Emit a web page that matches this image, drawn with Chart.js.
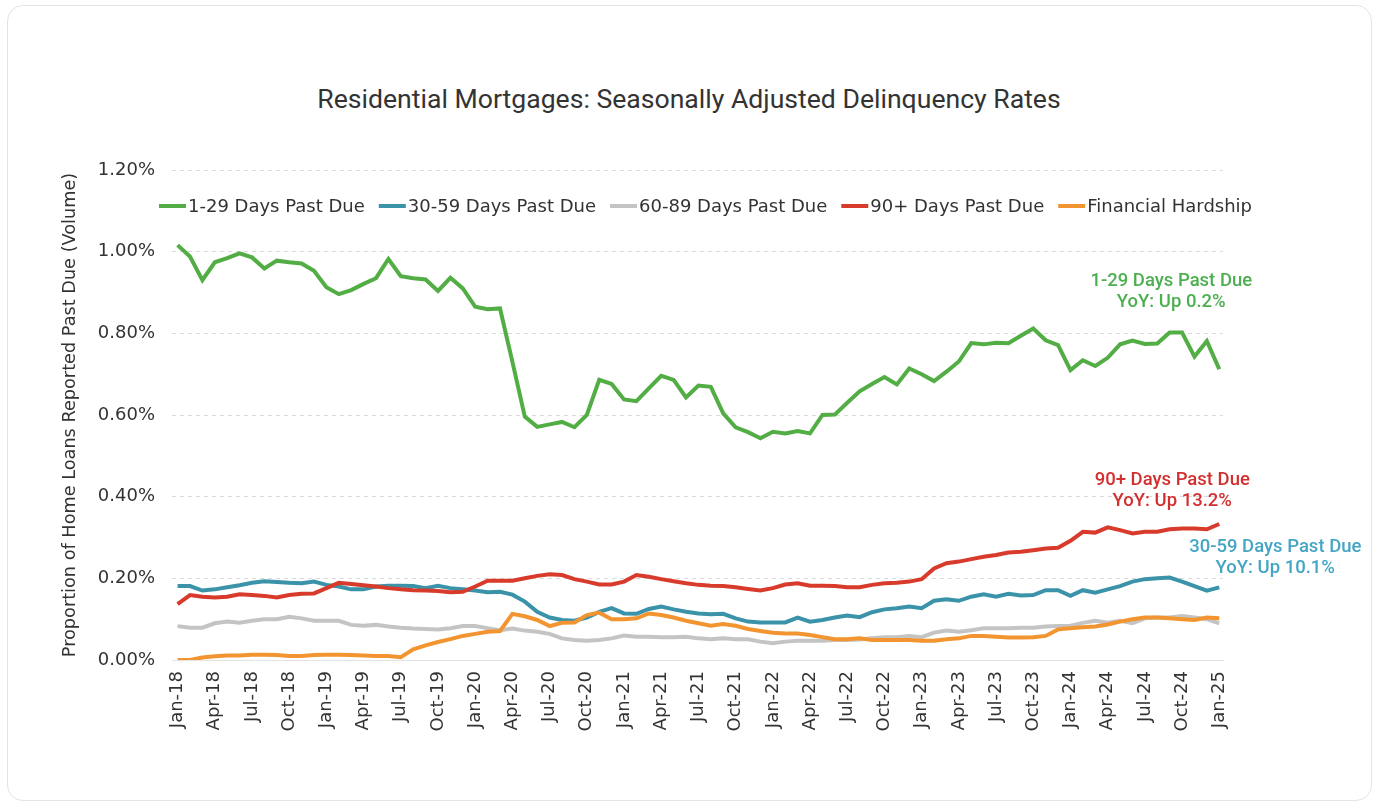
<!DOCTYPE html>
<html>
<head>
<meta charset="utf-8">
<title>Residential Mortgages: Seasonally Adjusted Delinquency Rates</title>
<script src="https://cdn.jsdelivr.net/npm/chart.js@4.4.1/dist/chart.umd.min.js"></script>
<style>
  html, body { margin: 0; padding: 0; background: #fff; }
  #card {
    position: absolute; left: 7px; top: 5px; width: 1363px; height: 794px;
    border: 1.5px solid #e4e4e4; border-radius: 16px; background: #fff;
  }
  #title {
    position: absolute; left: 0; top: 83px; width: 1378px; text-align: center;
    font-family: Roboto, sans-serif; font-size: 26.6px; line-height: 32px; color: #333;
  }
  #wrap { position: absolute; left: 0; top: 0; width: 1378px; height: 803px; }
</style>
</head>
<body>
<div id="card"></div>
<div id="title">Residential Mortgages: Seasonally Adjusted Delinquency Rates</div>
<div id="wrap"><canvas id="chart"></canvas></div>
<script>
// monthly, Jan-18 .. Jan-25 (85 months), values in percent
var tickLabels = ['Jan-18','Apr-18','Jul-18','Oct-18','Jan-19','Apr-19','Jul-19','Oct-19',
  'Jan-20','Apr-20','Jul-20','Oct-20','Jan-21','Apr-21','Jul-21','Oct-21',
  'Jan-22','Apr-22','Jul-22','Oct-22','Jan-23','Apr-23','Jul-23','Oct-23',
  'Jan-24','Apr-24','Jul-24','Oct-24','Jan-25'];

var days1to29 = [1.016,0.988,0.930,0.974,0.984,0.996,0.986,0.959,0.978,0.974,0.971,0.953,
  0.913,0.896,0.906,0.921,0.935,0.982,0.940,0.935,0.932,0.904,0.936,0.910,
  0.865,0.859,0.861,0.730,0.596,0.571,0.577,0.583,0.570,0.600,0.686,0.676,
  0.638,0.634,0.665,0.696,0.686,0.643,0.672,0.669,0.604,0.570,0.558,0.543,
  0.559,0.555,0.561,0.555,0.600,0.601,0.630,0.658,0.676,0.693,0.675,0.714,
  0.700,0.683,0.706,0.731,0.776,0.773,0.777,0.776,0.794,0.812,0.783,0.771,
  0.710,0.734,0.720,0.740,0.773,0.782,0.774,0.775,0.802,0.802,0.743,0.781,
  0.712];

var days30to59 = [0.181,0.181,0.170,0.173,0.178,0.183,0.189,0.193,0.191,0.189,0.188,0.192,
  0.184,0.180,0.173,0.173,0.180,0.182,0.182,0.181,0.176,0.182,0.176,0.173,
  0.170,0.166,0.167,0.160,0.143,0.118,0.104,0.098,0.096,0.104,0.118,0.127,
  0.114,0.113,0.125,0.131,0.124,0.118,0.114,0.112,0.113,0.102,0.094,0.092,
  0.092,0.092,0.104,0.094,0.098,0.104,0.109,0.105,0.117,0.124,0.127,0.131,
  0.127,0.145,0.149,0.145,0.155,0.161,0.155,0.162,0.158,0.159,0.171,0.171,
  0.157,0.171,0.165,0.173,0.181,0.192,0.198,0.200,0.202,0.192,0.181,0.170,
  0.178];

var days60to89 = [0.083,0.079,0.079,0.090,0.094,0.091,0.096,0.100,0.100,0.106,0.102,0.096,
  0.096,0.096,0.086,0.084,0.086,0.082,0.079,0.077,0.076,0.075,0.078,0.083,
  0.083,0.078,0.073,0.077,0.072,0.069,0.064,0.053,0.049,0.047,0.049,0.053,
  0.060,0.057,0.057,0.056,0.056,0.057,0.053,0.051,0.053,0.051,0.051,0.045,
  0.041,0.045,0.047,0.047,0.047,0.049,0.049,0.050,0.053,0.056,0.056,0.059,
  0.056,0.067,0.072,0.069,0.073,0.078,0.078,0.078,0.079,0.079,0.082,0.083,
  0.084,0.091,0.096,0.091,0.096,0.090,0.102,0.104,0.104,0.108,0.104,0.100,
  0.090];

var days90plus = [0.137,0.159,0.155,0.153,0.155,0.161,0.159,0.157,0.153,0.159,0.162,0.163,
  0.176,0.189,0.186,0.183,0.180,0.176,0.173,0.171,0.170,0.169,0.166,0.167,
  0.180,0.194,0.194,0.194,0.200,0.206,0.210,0.208,0.198,0.192,0.185,0.185,
  0.192,0.208,0.204,0.198,0.193,0.188,0.184,0.182,0.181,0.178,0.174,0.170,
  0.176,0.185,0.188,0.182,0.182,0.181,0.178,0.178,0.184,0.188,0.189,0.192,
  0.198,0.224,0.237,0.241,0.247,0.253,0.257,0.263,0.265,0.269,0.273,0.275,
  0.292,0.314,0.312,0.325,0.318,0.310,0.314,0.314,0.320,0.322,0.322,0.320,
  0.333];

var hardship = [0.000,0.000,0.006,0.009,0.011,0.011,0.013,0.013,0.012,0.010,0.010,0.012,
  0.013,0.013,0.012,0.011,0.010,0.010,0.007,0.026,0.036,0.044,0.051,0.059,
  0.064,0.069,0.071,0.113,0.107,0.098,0.083,0.091,0.092,0.110,0.116,0.100,
  0.100,0.102,0.114,0.110,0.104,0.096,0.090,0.084,0.088,0.084,0.076,0.071,
  0.067,0.065,0.065,0.061,0.056,0.051,0.051,0.053,0.049,0.049,0.049,0.049,
  0.047,0.047,0.051,0.053,0.059,0.059,0.057,0.055,0.055,0.056,0.059,0.075,
  0.078,0.080,0.082,0.087,0.094,0.100,0.104,0.104,0.102,0.100,0.098,0.104,
  0.102];

var seriesNames = ['1-29 Days Past Due','30-59 Days Past Due','60-89 Days Past Due','90+ Days Past Due','Financial Hardship'];
var seriesColors = ['#52ad44','#3a93a8','#c4c4c4','#d83b2b','#f29531'];

var fontFamily = '"DejaVu Sans", Verdana, sans-serif';
var axisFont = { family: fontFamily, size: 18 };

function pts(arr) {
  return arr.map(function(v, i) { return { x: i, y: v }; });
}

var allSeries = [days1to29, days30to59, days60to89, days90plus, hardship];
var datasets = allSeries.map(function(arr, k) {
  return {
    label: seriesNames[k],
    data: pts(arr),
    borderColor: seriesColors[k],
    backgroundColor: seriesColors[k],
    borderWidth: 4,
    pointRadius: 0,
    tension: 0,
    order: k === 0 ? 0 : 5 - k
  };
});

// legend drawn inside the plot, under the top gridline
var insideLegend = {
  id: 'insideLegend',
  afterDraw: function(chart) {
    var ctx = chart.ctx;
    var x = chart.chartArea.left - 13, y = 206;
    ctx.save();
    ctx.font = '18px ' + fontFamily;
    ctx.textBaseline = 'middle';
    ctx.textAlign = 'left';
    seriesNames.forEach(function(name, k) {
      ctx.strokeStyle = seriesColors[k];
      ctx.lineWidth = 4;
      ctx.beginPath();
      ctx.moveTo(x, y);
      ctx.lineTo(x + 27, y);
      ctx.stroke();
      ctx.fillStyle = '#333';
      ctx.fillText(name, x + 29, y + 1);
      x += 29 + ctx.measureText(name).width + 14;
    });
    ctx.restore();
  }
};

// YoY notes at the right end
var notes = [
  { lines: ['1-29 Days Past Due', 'YoY: Up 0.2%'], color: '#4caf50', dx: -48, v: 0.928 },
  { lines: ['90+ Days Past Due', 'YoY: Up 13.2%'], color: '#d32f2f', dx: -47, v: 0.44 },
  { lines: ['30-59 Days Past Due', 'YoY: Up 10.1%'], color: '#45a5c5', dx: 56, v: 0.275 }
];
var yoyNotes = {
  id: 'yoyNotes',
  afterDraw: function(chart) {
    var ctx = chart.ctx;
    var xs = chart.scales.x, ys = chart.scales.y;
    ctx.save();
    ctx.font = '500 18.5px Roboto, sans-serif';
    ctx.textAlign = 'center';
    ctx.textBaseline = 'middle';
    notes.forEach(function(n) {
      var cx = xs.getPixelForValue(84) + n.dx;
      var cy = ys.getPixelForValue(n.v);
      ctx.fillStyle = n.color;
      n.lines.forEach(function(t, i) { ctx.fillText(t, cx, cy + i * 21); });
    });
    ctx.restore();
  }
};

new Chart(document.getElementById('chart'), {
  type: 'line',
  data: { datasets: datasets },
  options: {
    responsive: true,
    maintainAspectRatio: false,
    animation: false,
    layout: { padding: { left: 60, right: 155, top: 170, bottom: 0 } },
    plugins: {
      legend: { display: false },
      title: { display: false },
      tooltip: { enabled: false }
    },
    scales: {
      x: {
        type: 'linear',
        min: -0.45,
        max: 84.3,
        afterFit: function(s) { s.height = 143; },
        grid: { display: false, drawTicks: false },
        border: { display: true, color: '#e3e3e3', width: 1 },
        ticks: {
          stepSize: 3,
          includeBounds: false,
          autoSkip: false,
          minRotation: 90,
          maxRotation: 90,
          padding: 11,
          color: '#333',
          font: axisFont,
          callback: function(v) {
            return (v % 3 === 0) ? tickLabels[v / 3] : '';
          }
        }
      },
      y: {
        min: 0,
        max: 1.2,
        afterFit: function(s) { s.width = 112; },
        grid: { color: '#dadada', lineWidth: 1, drawTicks: false },
        border: { display: false, dash: [4, 4] },
        ticks: {
          stepSize: 0.2,
          padding: 17,
          color: '#333',
          font: axisFont,
          callback: function(v) { return v.toFixed(2) + '%'; }
        },
        title: {
          display: true,
          text: 'Proportion of Home Loans Reported Past Due (Volume)',
          color: '#333',
          font: { family: fontFamily, size: 17.7 },
          padding: { top: 0, bottom: 0 }
        }
      }
    }
  },
  plugins: [insideLegend, yoyNotes]
});
</script>
</body>
</html>
